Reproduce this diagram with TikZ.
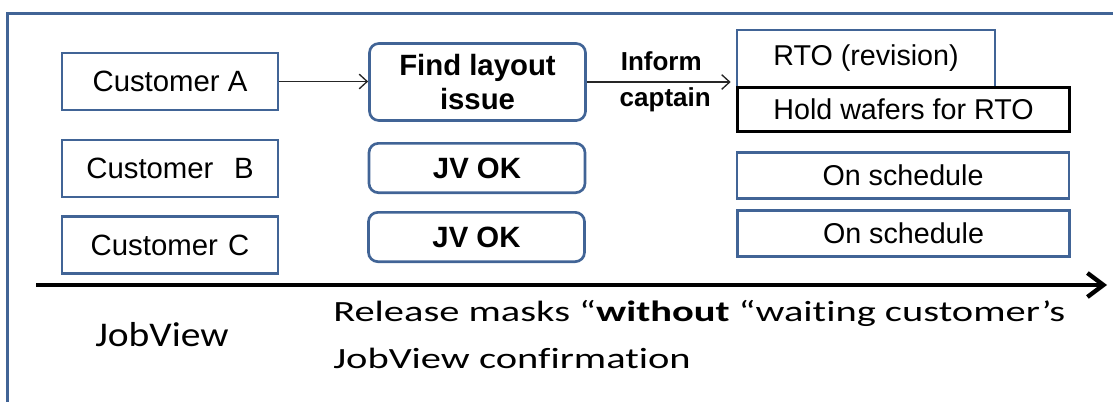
\documentclass[tikz,border=0pt]{standalone}
\usepackage{fontspec}
\setmainfont{Liberation Sans}
\newfontfamily\calfont[Ligatures=NoCommon]{Carlito}
\usepackage{xcolor}
\usetikzlibrary{arrows.meta}
\definecolor{boxblue}{RGB}{65,100,150}
\tikzset{
	custbox/.style={draw=boxblue,line width=2pt,inner sep=0pt,minimum width=162pt,minimum height=42.75pt,font=\fontsize{22}{26}\selectfont},
	jvbox/.style={custbox,rounded corners=7pt,font=\fontsize{22}{26}\selectfont\bfseries},
	rightbox/.style={custbox,minimum width=249pt,minimum height=34.5pt,font=\fontsize{21.5}{26}\selectfont},
	thinarrow/.style={draw=black!85,line width=1pt,-{Straight Barb[length=6pt,width=11pt]}},
	notelabel/.style={font=\fontsize{19.5}{22}\selectfont\bfseries,inner sep=0pt}
}
\begin{document}
\begin{tikzpicture}[x=0.75pt,y=-0.75pt]
	\useasboundingbox (0,0) rectangle (1113,401);
	% Outer frame
	\draw[boxblue,line width=2.25pt] (1125,13) -- (7,13) -- (7,420);
	% Customers
	\node[custbox] (custA) at (170,81.5) {Customer A};
	\node[custbox] (custB) at (170,168.5) {Customer\hspace{0.7em}B};
	\node[custbox] (custC) at (170,245) {Customer\hspace{0.35em}C};
	% JobView results
	\node[jvbox,minimum height=57.75pt,align=center] (find) at (477.5,82) {Find layout\\issue};
	\node[jvbox,minimum height=37pt] (jvB) at (477,168) {JV OK};
	\node[jvbox,minimum height=37pt] (jvC) at (476.5,237) {JV OK};
	% Actions
	\node[rightbox,minimum width=193.5pt,minimum height=42.75pt,yshift=-1.5pt] (rto) at (866,56.5) {RTO (revision)};
	\node[rightbox,draw=black,fill=white,line width=2.25pt,minimum height=33pt] (hold) at (903.5,109) {Hold wafers for RTO};
	\node[rightbox] (schB) at (903,175.5) {On schedule};
	\node[rightbox] (schC) at (903.5,233.5) {On schedule};
	% Connectors
	\draw[thinarrow] (custA.east) -- (custA.east -| find.west);
	\draw[thinarrow,shorten >=3.75pt] (find.east) -- (find.east -| rto.west)
		node[midway,above,notelabel,yshift=8pt] (inform) {Inform}
		node[midway,below,notelabel,xshift=3pt,yshift=-3.5pt] (captain) {captain};
	% Time line
	\coordinate (tlstart) at (36,285);
	\coordinate (tlend) at (1107,285);
	\draw[line width=3.25pt,-{Straight Barb[length=12pt,width=18pt]}] (tlstart) -- (tlend);
	% Notes below the time line
	\node[anchor=base west,inner sep=0pt,font=\calfont\fontsize{26}{30}\selectfont] (jobview) at (95,346) {\scalebox{1.14}[1]{JobView}};
	\node[anchor=base west,inner sep=0pt,font=\calfont\fontsize{22}{26}\selectfont] (release) at (333,321.7) {\scalebox{1.38}[1]{Release masks “\textbf{without} “waiting customer’s}};
	\node[anchor=base west,inner sep=0pt,font=\calfont\fontsize{22}{26}\selectfont] (confirm) at (333,368) {\scalebox{1.38}[1]{JobView confirmation}};
\end{tikzpicture}
\end{document}
